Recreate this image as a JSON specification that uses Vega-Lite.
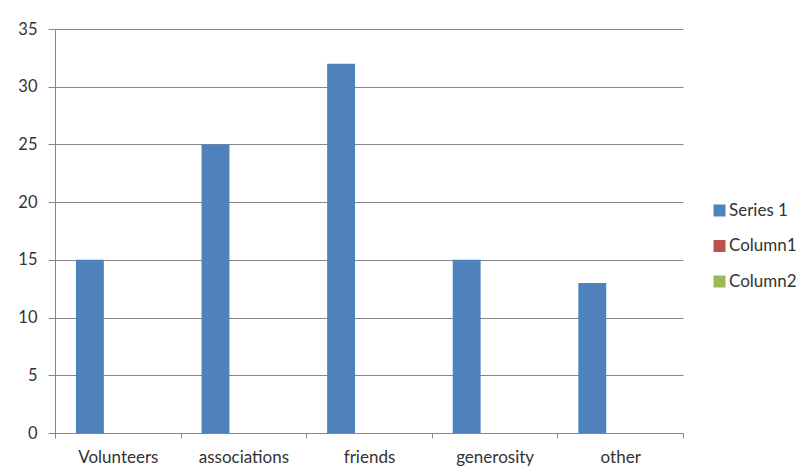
{
  "$schema": "https://vega.github.io/schema/vega-lite/v6.json",
  "width": 628,
  "height": 404,
  "autosize": {"type": "none"},
  "padding": {"left": 55, "top": 29, "right": 122, "bottom": 42},
  "background": "white",
  "data": {
    "values": [
      {"category": "Volunteers", "series": "Series 1", "value": 15},
      {"category": "associations", "series": "Series 1", "value": 25},
      {"category": "friends", "series": "Series 1", "value": 32},
      {"category": "generosity", "series": "Series 1", "value": 15},
      {"category": "other", "series": "Series 1", "value": 13}
    ]
  },
  "mark": {"type": "bar"},
  "encoding": {
    "x": {
      "field": "category",
      "type": "nominal",
      "sort": null,
      "scale": {"paddingInner": 0, "paddingOuter": 0},
      "axis": {
        "title": null,
        "labelAngle": 0,
        "tickBand": "extent",
        "domainColor": "#868686",
        "tickColor": "#868686",
        "tickSize": 5,
        "labelFont": "Lato",
        "labelFontSize": 17,
        "labelColor": "#333333",
        "labelPadding": 11
      }
    },
    "xOffset": {
      "field": "series",
      "type": "nominal",
      "scale": {"domain": ["Series 1", "Column1", "Column2"], "paddingOuter": 0.75, "paddingInner": 0}
    },
    "y": {
      "field": "value",
      "type": "quantitative",
      "scale": {"domain": [0, 35], "nice": false},
      "axis": {
        "title": null,
        "values": [0, 5, 10, 15, 20, 25, 30, 35],
        "grid": true,
        "gridColor": "#868686",
        "gridOpacity": 1,
        "domainColor": "#868686",
        "tickColor": "#868686",
        "tickSize": 7,
        "labelFont": "Lato",
        "labelFontSize": 16.5,
        "labelColor": "#333333",
        "labelPadding": 11
      }
    },
    "color": {
      "field": "series",
      "type": "nominal",
      "scale": {"domain": ["Series 1", "Column1", "Column2"], "range": ["#4F81BD", "#C0504D", "#9BBB59"]},
      "legend": {
        "title": null,
        "orient": "none",
        "legendX": 656,
        "legendY": 173,
        "symbolType": "square",
        "symbolSize": 144,
        "symbolStrokeWidth": 0,
        "labelFont": "Lato",
        "labelFontSize": 17,
        "labelColor": "#333333",
        "rowPadding": 17.5,
        "labelOffset": 1
      }
    }
  },
  "config": {
    "view": {"stroke": null},
    "axis": {"domainWidth": 1, "gridWidth": 1}
  }
}
